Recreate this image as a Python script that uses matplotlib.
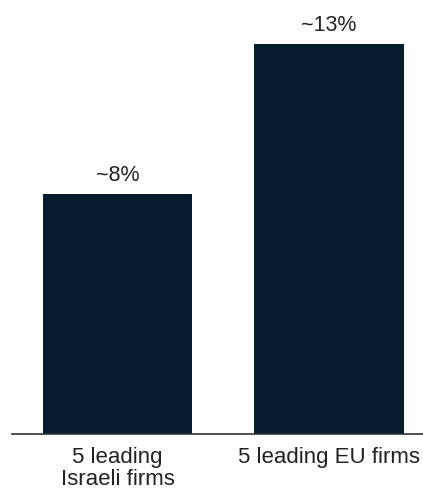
import matplotlib
matplotlib.use("Agg")
import matplotlib.pyplot as plt

# Data
categories = ["5 leading\nIsraeli firms", "5 leading EU firms"]
values = [8, 13]
value_labels = ["~8%", "~13%"]

BAR_COLOR = "#051c2c"
TEXT_COLOR = "#222222"

plt.rcParams["font.family"] = ["Liberation Sans", "DejaVu Sans"]

fig = plt.figure(figsize=(4.23, 4.97), dpi=100)
ax = fig.add_axes([12 / 423, 63 / 497, 411 / 423, 434 / 497])

x = list(range(len(categories)))
bars = ax.bar(x, values, width=0.708, color=BAR_COLOR, edgecolor="none")

for rect, lab in zip(bars, value_labels):
    ax.annotate(lab, (rect.get_x() + rect.get_width() / 2, rect.get_height()),
                xytext=(0, 6), textcoords="offset points",
                ha="center", va="bottom", fontsize=15.5, color=TEXT_COLOR)

ax.set_xlim(-0.4994, 1.446)
ax.set_ylim(0, 14.467)

ax.set_xticks(x)
ax.set_xticklabels(categories, fontsize=16, color=TEXT_COLOR, linespacing=1.12)
ax.tick_params(axis="x", length=0, pad=9)
ax.set_yticks([])

for side in ["top", "right", "left"]:
    ax.spines[side].set_visible(False)
ax.spines["bottom"].set_color("#333333")
ax.spines["bottom"].set_linewidth(1.2)

fig.savefig("out.png", dpi=100)
